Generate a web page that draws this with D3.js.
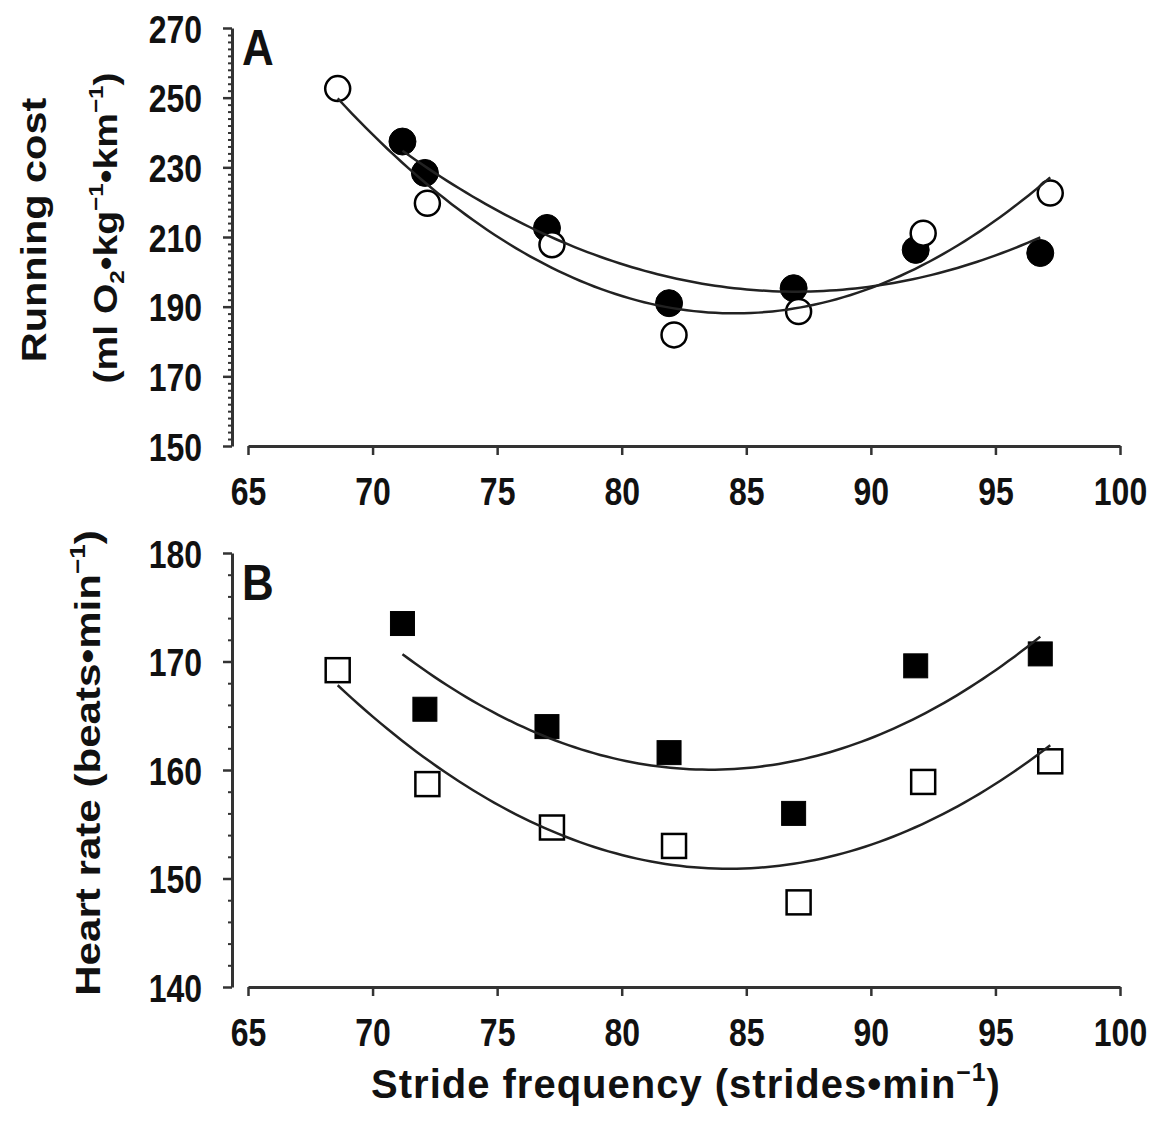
<!DOCTYPE html>
<html>
<head>
<meta charset="utf-8">
<script src="https://cdn.jsdelivr.net/npm/d3@7"></script>
<style>
  body { margin: 0; background: #fff; }
  svg { display: block; }
</style>
</head>
<body>
<div class="app"></div>
<script>
// Data
const strideFilled = [71.2, 72.1, 77.0, 81.9, 86.9, 91.8, 96.8];
const strideOpen = [68.6, 72.2, 77.2, 82.1, 87.1, 92.1, 97.2];
const costFilled = [237.4, 228.4, 212.6, 191.0, 195.3, 206.3, 205.4];
const costOpen = [252.6, 219.7, 207.8, 181.9, 188.6, 211.1, 222.6];
const hrFilled = [173.5, 165.6, 164.0, 161.6, 156.0, 169.6, 170.7];
const hrOpen = [169.2, 158.7, 154.7, 153.0, 147.8, 158.9, 160.8];

const strideTicks = [65, 70, 75, 80, 85, 90, 95, 100];
const costTicks = [150, 170, 190, 210, 230, 250, 270];
const hrTicks = [140, 150, 160, 170, 180];

// Setup
const width = 1152;
const height = 1128;
const FONT = "'Liberation Sans', Arial, sans-serif";
const INK = '#111';
const STRETCH = 1.2;

const svg = d3.select('.app')
  .append('svg')
  .attr('width', width)
  .attr('height', height)
  .attr('viewBox', [0, 0, width, height])
  .attr('font-family', FONT)
  .attr('font-weight', 'bold');

const x = d3.scaleLinear().domain([65, 100]).range([248, 1120]);
const yCost = d3.scaleLinear().domain([150, 270]).range([446, 28]);
const yHr = d3.scaleLinear().domain([140, 180]).range([987, 553]);

// least squares 2nd order polynomial (the trendline in the figure)
const quadFit = (xs, ys) => {
  const s = k => d3.sum(xs, v => v ** k);
  const t = k => d3.sum(xs, (v, i) => v ** k * ys[i]);
  const A = [[s(0), s(1), s(2)], [s(1), s(2), s(3)], [s(2), s(3), s(4)]];
  const b = [t(0), t(1), t(2)];
  // gaussian elimination
  for (let i = 0; i < 3; i++) {
    for (let j = i + 1; j < 3; j++) {
      const f = A[j][i] / A[i][i];
      for (let k = i; k < 3; k++) A[j][k] -= f * A[i][k];
      b[j] -= f * b[i];
    }
  }
  const c = [0, 0, 0];
  for (let i = 2; i >= 0; i--) {
    let acc = b[i];
    for (let k = i + 1; k < 3; k++) acc -= A[i][k] * c[k];
    c[i] = acc / A[i][i];
  }
  return v => c[0] + c[1] * v + c[2] * v * v;
};

const richText = (sel, parts, fs) => {
  let shift = 0;
  parts.forEach(p => {
    const target = p.s === 'sup' ? -0.42 * fs : p.s === 'sub' ? 0.22 * fs : 0;
    sel.append('tspan')
      .attr('dy', target - shift)
      .attr('font-size', p.s ? fs * 0.62 : fs)
      .text(p.t);
    shift = target;
  });
};

const drawPanel = (y, yTicks, series, letter) => {
  const g = svg.append('g');
  const [yBottom] = y.range();

  // x axis
  const gx = g.append('g')
    .attr('transform', `translate(0,${yBottom})`)
    .call(d3.axisBottom(x).tickValues(strideTicks).tickSize(9).tickSizeOuter(0));
  gx.select('.domain').attr('stroke', '#333').attr('stroke-width', 3);
  gx.selectAll('.tick line').attr('stroke', '#333').attr('stroke-width', 2.5);
  gx.selectAll('.tick text')
    .attr('y', 0).attr('dy', 0)
    .attr('transform', `translate(0,59) scale(1,${STRETCH})`)
    .attr('font-size', 32).attr('font-weight', 'bold').attr('font-family', FONT)
    .attr('fill', INK);

  // y axis, major and minor ticks
  const [lo, hi] = y.domain();
  const minor = d3.range(lo, hi + 0.01, 2).filter(v => !yTicks.includes(v));
  const gyMinor = g.append('g')
    .attr('transform', 'translate(232,0)')
    .call(d3.axisLeft(y).tickValues(minor).tickSize(4).tickFormat(''));
  gyMinor.select('.domain').remove();
  gyMinor.selectAll('.tick line').attr('stroke', '#333').attr('stroke-width', 2);

  const gy = g.append('g')
    .attr('transform', 'translate(232,0)')
    .call(d3.axisLeft(y).tickValues(yTicks).tickSize(9).tickSizeOuter(0));
  gy.select('.domain').attr('stroke', '#333').attr('stroke-width', 3);
  gy.selectAll('.tick line').attr('stroke', '#333').attr('stroke-width', 2.5);
  gy.selectAll('.tick text')
    .attr('x', 0).attr('dy', 0)
    .attr('transform', `translate(-30,14) scale(1,${STRETCH})`)
    .attr('font-size', 32).attr('font-weight', 'bold').attr('font-family', FONT)
    .attr('fill', INK);

  // panel letter
  g.append('text')
    .attr('transform', `translate(242,${y(hi) + (letter === 'A' ? 37 : 47)}) scale(1,1.12)`)
    .attr('font-size', 44)
    .attr('fill', INK)
    .text(letter);

  // markers (filled first, open on top)
  series.forEach(s => {
    const pts = s.xs.map((v, i) => [x(v), y(s.ys[i])]);
    if (s.shape === 'circle') {
      g.append('g').selectAll('circle')
        .data(pts)
        .join('circle')
        .attr('cx', d => d[0])
        .attr('cy', d => d[1])
        .attr('r', s.filled ? 13.5 : 12.5)
        .attr('fill', s.filled ? '#000' : '#fff')
        .attr('stroke', '#000')
        .attr('stroke-width', s.filled ? 1 : 2.5);
    } else {
      const side = 24;
      g.append('g').selectAll('rect')
        .data(pts)
        .join('rect')
        .attr('x', d => d[0] - side / 2)
        .attr('y', d => d[1] - side / 2)
        .attr('width', side)
        .attr('height', side)
        .attr('fill', s.filled ? '#000' : '#fff')
        .attr('stroke', '#000')
        .attr('stroke-width', s.filled ? 1 : 2.5);
    }
  });

  // fitted curves
  series.forEach(s => {
    const f = quadFit(s.xs, s.ys);
    const [x0, x1] = d3.extent(s.xs);
    const samples = d3.range(0, 101).map(i => x0 + (x1 - x0) * i / 100);
    g.append('path')
      .attr('fill', 'none')
      .attr('stroke', '#222')
      .attr('stroke-width', 2.5)
      .attr('d', d3.line().x(v => x(v)).y(v => y(f(v)))(samples));
  });
};

drawPanel(yCost, costTicks, [
  { xs: strideFilled, ys: costFilled, shape: 'circle', filled: true },
  { xs: strideOpen, ys: costOpen, shape: 'circle', filled: false }
], 'A');

drawPanel(yHr, hrTicks, [
  { xs: strideFilled, ys: hrFilled, shape: 'square', filled: true },
  { xs: strideOpen, ys: hrOpen, shape: 'square', filled: false }
], 'B');

// Axis titles
const titleA1 = svg.append('text')
  .attr('transform', `translate(46,230) scale(1,1.15) rotate(-90)`)
  .attr('text-anchor', 'middle')
  .attr('font-size', 36)
  .attr('fill', INK)
  .text('Running cost');

const titleA2 = svg.append('text')
  .attr('transform', `translate(117,228) scale(1,1.15) rotate(-90)`)
  .attr('text-anchor', 'middle')
  .attr('fill', INK);
richText(titleA2, [
  { t: '(ml O' }, { t: '2', s: 'sub' }, { t: '\u2022kg' }, { t: '\u22121', s: 'sup' },
  { t: '\u2022km' }, { t: '\u22121', s: 'sup' }, { t: ')' }
], 34);

const titleB = svg.append('text')
  .attr('transform', `translate(100,763) scale(1,1.17) rotate(-90)`)
  .attr('text-anchor', 'middle')
  .attr('fill', INK);
richText(titleB, [
  { t: 'Heart rate (beats\u2022min' }, { t: '\u22121', s: 'sup' }, { t: ')' }
], 36);

const titleX = svg.append('text')
  .attr('transform', `translate(686,1098) scale(1,1.02)`)
  .attr('text-anchor', 'middle')
  .attr('letter-spacing', 1)
  .attr('fill', INK);
richText(titleX, [
  { t: 'Stride frequency  (strides\u2022min' }, { t: '\u22121', s: 'sup' }, { t: ')' }
], 40);
</script>
</body>
</html>
